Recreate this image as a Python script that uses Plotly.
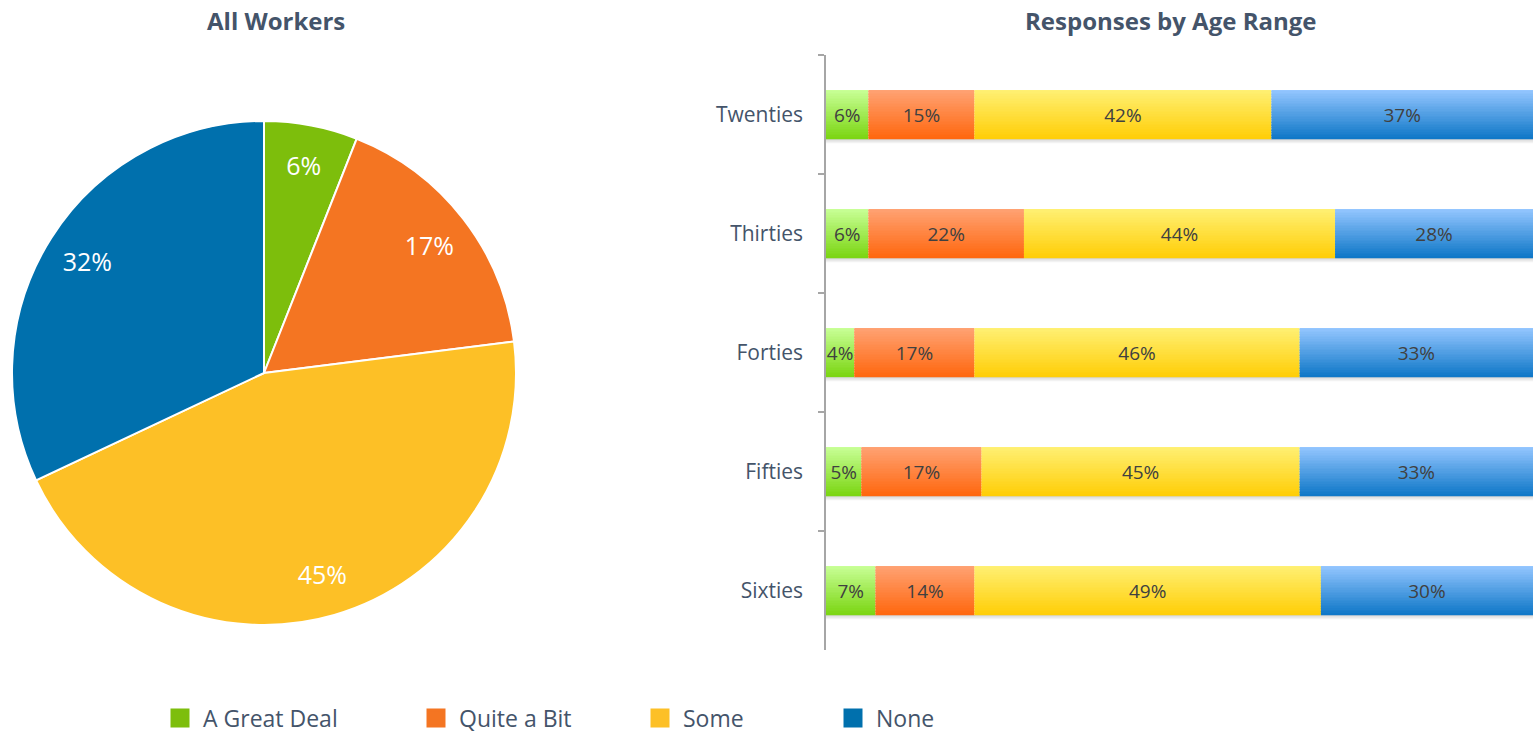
import plotly.graph_objects as go

# ---------------- data ----------------
series = ["A Great Deal", "Quite a Bit", "Some", "None"]
pie_values = [6, 17, 45, 32]

age_ranges = ["Twenties", "Thirties", "Forties", "Fifties", "Sixties"]
great_deal = [6, 6, 4, 5, 7]
quite_a_bit = [15, 22, 17, 17, 14]
some = [42, 44, 46, 45, 49]
none_ = [37, 28, 33, 33, 30]

# ---------------- styles ----------------
solid_colors = ["#7DBE0C", "#F47522", "#FDC026", "#0070AD"]
grad_top = [(200, 255, 150), (255, 162, 115), (255, 240, 115), (148, 198, 255)]
grad_bot = [(124, 214, 20), (255, 104, 16), (255, 206, 8), (16, 120, 200)]
text_dark = "#44546A"
FONT = "Open Sans"

W, H = 1536, 735
B = 42                     # bottom margin reserved for the legend
PH = H - B                 # plot-area height


def py(ypix):
    """paper fraction for a pixel row measured from the top"""
    return (PH - ypix) / PH


N_STRIPS = 30
BAR_W = 0.41

fig = go.Figure()

pie_domain = dict(x=[12 / W, 516 / W], y=[py(625), py(121)])

# Pie (slices)
fig.add_trace(go.Pie(
    values=pie_values, labels=series, sort=False, direction="clockwise",
    rotation=0, showlegend=False,
    marker=dict(colors=solid_colors, line=dict(color="white", width=2)),
    textinfo="none",
    domain=pie_domain,
    hovertemplate="%{label}: %{value}%<extra></extra>",
))
# Pie (labels, placed on an outer ring)
fig.add_trace(go.Pie(
    values=pie_values, labels=series, sort=False, direction="clockwise",
    rotation=0, showlegend=False, hole=0.66,
    marker=dict(colors=["rgba(0,0,0,0)"] * 4, line=dict(width=0)),
    texttemplate="%{value}%", textposition="inside", insidetextorientation="horizontal",
    insidetextfont=dict(color="white", size=25, family=FONT),
    domain=pie_domain, hoverinfo="skip",
))

bar_data = [great_deal, quite_a_bit, some, none_]

# cumulative bases
bases = []
running = [0] * len(age_ranges)
for vals in bar_data:
    bases.append(list(running))
    running = [r + v for r, v in zip(running, vals)]

# soft shadow under bars
for k, alpha in enumerate([0.16, 0.10, 0.05]):
    fig.add_trace(go.Bar(
        y=age_ranges, x=running, base=[0] * len(age_ranges), orientation="h",
        width=0.012, offset=BAR_W / 2 + k * 0.012,
        marker=dict(color=f"rgba(0,0,0,{alpha})", line=dict(width=0)),
        showlegend=False, hoverinfo="skip",
    ))


def lerp(c1, c2, t):
    return "rgb(%d,%d,%d)" % tuple(round(a + (b - a) * t) for a, b in zip(c1, c2))


for si, (name, vals) in enumerate(zip(series, bar_data)):
    for k in range(N_STRIPS):
        t = k / (N_STRIPS - 1)
        fig.add_trace(go.Bar(
            y=age_ranges, x=vals, base=bases[si], orientation="h",
            width=BAR_W / N_STRIPS + 0.002,
            offset=-BAR_W / 2 + k * BAR_W / N_STRIPS,
            marker=dict(color=lerp(grad_top[si], grad_bot[si], t), line=dict(width=0)),
            showlegend=False, hoverinfo="skip",
        ))
    # text label overlay
    fig.add_trace(go.Bar(
        y=age_ranges, x=vals, base=bases[si], orientation="h",
        width=BAR_W, offset=-BAR_W / 2,
        marker=dict(color="rgba(0,0,0,0)", line=dict(width=0)),
        text=[f"{v}%" for v in vals], textposition="inside", textangle=0,
        insidetextanchor="middle", constraintext="none", cliponaxis=False,
        textfont=dict(color="#404040", size=19, family=FONT),
        showlegend=False, name=name,
        hovertemplate=name + ": %{x}%<extra>%{y}</extra>",
    ))

# legend entries (one legend per entry so each can sit where the reference has it)
legend_square_left = [170, 426, 650, 843]
for i, name in enumerate(series):
    lname = "legend" if i == 0 else f"legend{i + 1}"
    fig.add_trace(go.Scatter(
        x=[None], y=[None], mode="markers", name=name,
        marker=dict(symbol="square", size=16, color=solid_colors[i],
                    line=dict(color=solid_colors[i], width=3)),
        legend=lname, showlegend=True,
    ))

legend_common = dict(
    orientation="h", xanchor="left", yanchor="middle",
    yref="container", xref="container", y=(H - 718) / H,
    font=dict(size=23, color=text_dark, family=FONT),
    bgcolor="rgba(0,0,0,0)", itemsizing="trace", itemwidth=36,
)
layout_legends = {}
for i in range(4):
    lname = "legend" if i == 0 else f"legend{i + 1}"
    layout_legends[lname] = dict(legend_common, x=(legend_square_left[i] - 13) / W)

fig.update_layout(
    width=W, height=H,
    margin=dict(l=0, r=0, t=0, b=B),
    paper_bgcolor="white", plot_bgcolor="white",
    barmode="overlay",
    font=dict(family=FONT, color=text_dark),
    xaxis=dict(domain=[826 / W, 1533 / W], range=[0, 100], visible=False, fixedrange=True),
    yaxis=dict(domain=[py(650), py(55)], type="category",
               autorange="reversed", showline=True, linecolor="#A6A6A6", linewidth=1.5,
               ticks="outside", tickson="boundaries", ticklen=6, tickcolor="#A6A6A6",
               tickwidth=1.5, tickfont=dict(size=21, color=text_dark, family=FONT),
               showgrid=False, zeroline=False, ticklabelstandoff=17, fixedrange=True),
    annotations=[
        dict(text="<b>All Workers</b>", x=276 / W, y=py(21), xref="paper", yref="paper",
             showarrow=False, font=dict(size=24, color=text_dark, family=FONT),
             xanchor="center", yanchor="middle"),
        dict(text="<b>Responses by Age Range</b>", x=1171 / W, y=py(21),
             xref="paper", yref="paper", showarrow=False,
             font=dict(size=24, color=text_dark, family=FONT),
             xanchor="center", yanchor="middle"),
    ],
    **layout_legends,
)

fig.write_html("out.html", config={"displayModeBar": False},
               post_script="document.body.style.margin='0';document.body.style.overflow='hidden';")
